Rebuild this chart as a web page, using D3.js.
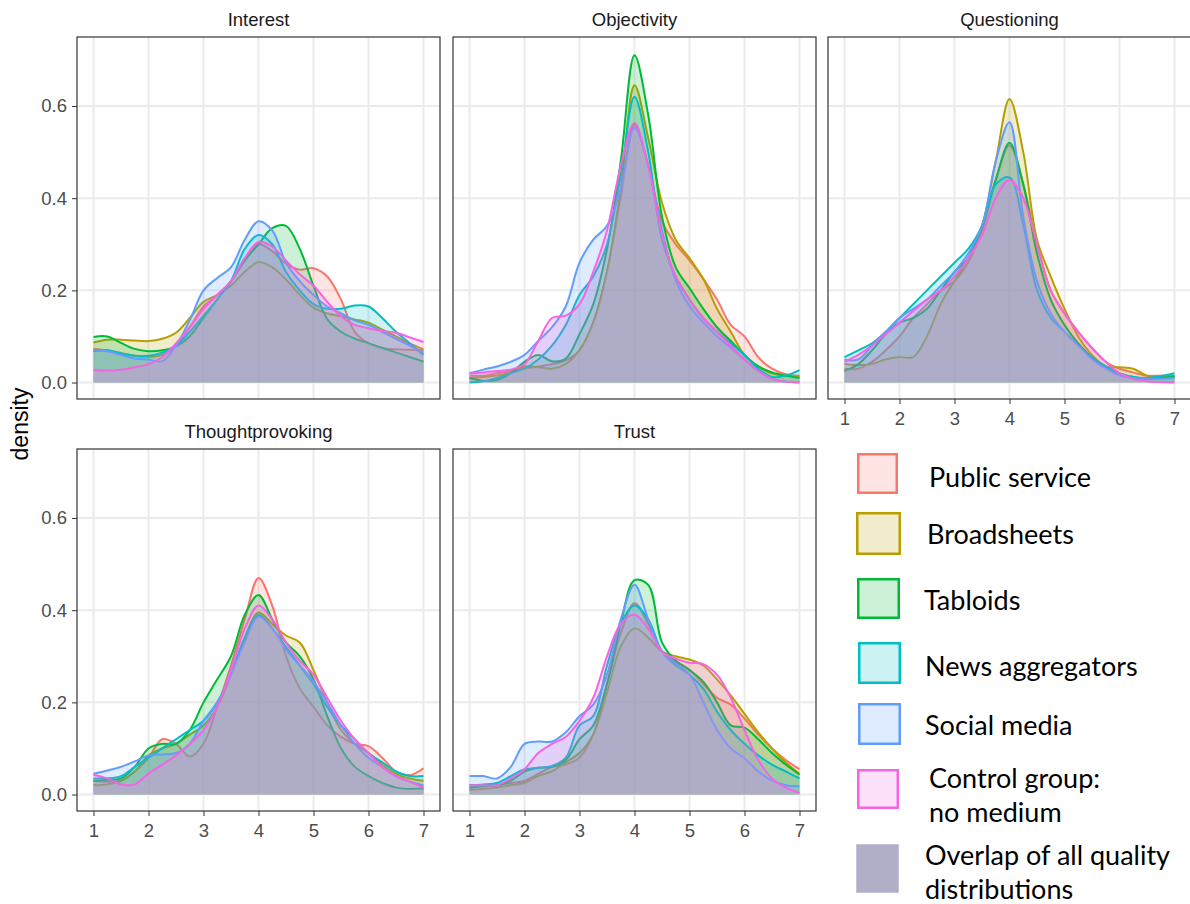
<!DOCTYPE html>
<html lang="en">
<head>
<meta charset="UTF-8">
<title>Quality ratings by medium - density</title>
<script src="https://d3js.org/d3.v7.min.js"></script>
<style>
    body{ margin:0; background:#fff; }
    svg{ display:block; }
    .strip{
        font-family: "Liberation Sans", Arial, sans-serif;
        font-size: 18.5px;
        fill: #1A1A1A;
        text-anchor: middle;
    }
    .tick text{
        font-family: "Liberation Sans", Arial, sans-serif;
        font-size: 18.5px;
        fill: #4D4D4D;
    }
    .tick line{ stroke:#333333; }
    .ytitle{
        font-family: "Liberation Sans", Arial, sans-serif;
        font-size: 23px;
        fill: #000;
        text-anchor: middle;
    }
    .legend text{
        font-family: Lato, "Open Sans", sans-serif;
        font-size: 27px;
        fill: #000;
    }
</style>
</head>
<body>
<svg width="1190" height="904"></svg>
<script>
// groups (ggplot default hue palette)
const groups = ["Public service", "Broadsheets", "Tabloids", "News aggregators", "Social media", "Control group"]
const colors = ["#F8766D", "#B79F00", "#00BA38", "#00BFC4", "#619CFF", "#F564E3"]
const facets = ["Interest", "Objectivity", "Questioning", "Thoughtprovoking", "Trust"]

const xGrid = [1, 1.25, 1.5, 1.75, 2, 2.25, 2.5, 2.75, 3, 3.25, 3.5, 3.75, 4,
               4.25, 4.5, 4.75, 5, 5.25, 5.5, 5.75, 6, 6.25, 6.5, 6.75, 7]
const xTicks = [1, 2, 3, 4, 5, 6, 7]
const yTicks = [0, 0.2, 0.4, 0.6]

// one row per group, same order as `groups`
const interest = [
    [0.073,0.07,0.064,0.058,0.056,0.06,0.08,0.12,0.165,0.19,0.22,0.265,0.30,0.285,0.258,0.245,0.248,0.23,0.18,0.11,0.085,0.075,0.072,0.071,0.07],
    [0.087,0.093,0.093,0.091,0.09,0.095,0.108,0.14,0.175,0.19,0.21,0.24,0.261,0.25,0.223,0.19,0.162,0.15,0.144,0.137,0.13,0.115,0.1,0.085,0.072],
    [0.099,0.1,0.086,0.073,0.068,0.07,0.078,0.1,0.14,0.18,0.22,0.265,0.30,0.335,0.34,0.29,0.21,0.137,0.11,0.095,0.085,0.075,0.065,0.055,0.045],
    [0.068,0.07,0.063,0.058,0.058,0.065,0.08,0.11,0.145,0.18,0.22,0.29,0.32,0.30,0.24,0.20,0.17,0.16,0.16,0.167,0.165,0.14,0.11,0.085,0.06],
    [0.07,0.068,0.06,0.052,0.05,0.046,0.08,0.135,0.2,0.227,0.25,0.31,0.35,0.33,0.26,0.22,0.19,0.165,0.15,0.135,0.125,0.11,0.095,0.08,0.065],
    [0.027,0.026,0.028,0.033,0.04,0.055,0.085,0.12,0.16,0.19,0.22,0.27,0.305,0.295,0.265,0.235,0.21,0.175,0.144,0.125,0.118,0.112,0.108,0.098,0.088]
]
const objectivity = [
    [0.015,0.015,0.02,0.025,0.03,0.035,0.04,0.048,0.07,0.13,0.24,0.40,0.56,0.47,0.35,0.30,0.265,0.225,0.18,0.125,0.10,0.055,0.03,0.018,0.015],
    [0.01,0.012,0.015,0.022,0.035,0.033,0.03,0.04,0.07,0.13,0.24,0.42,0.645,0.53,0.39,0.31,0.27,0.225,0.16,0.11,0.06,0.035,0.02,0.015,0.013],
    [0.01,0.004,0.005,0.02,0.045,0.06,0.046,0.052,0.105,0.17,0.29,0.48,0.71,0.58,0.36,0.25,0.205,0.16,0.12,0.09,0.06,0.035,0.022,0.015,0.01],
    [0.0,0.003,0.01,0.02,0.03,0.05,0.08,0.125,0.19,0.23,0.30,0.45,0.62,0.50,0.31,0.23,0.18,0.14,0.11,0.085,0.06,0.03,0.012,0.015,0.027],
    [0.02,0.028,0.035,0.045,0.06,0.09,0.12,0.165,0.26,0.31,0.34,0.42,0.552,0.47,0.33,0.22,0.165,0.13,0.10,0.075,0.05,0.025,0.008,0.002,0.0],
    [0.02,0.022,0.025,0.028,0.04,0.09,0.14,0.145,0.17,0.24,0.33,0.47,0.563,0.47,0.32,0.23,0.18,0.14,0.11,0.08,0.05,0.025,0.008,0.002,0.0]
]
const questioning = [
    [0.03,0.03,0.045,0.07,0.10,0.14,0.17,0.20,0.22,0.26,0.33,0.44,0.515,0.43,0.30,0.20,0.15,0.11,0.075,0.045,0.03,0.022,0.015,0.015,0.015],
    [0.04,0.038,0.04,0.05,0.055,0.055,0.10,0.17,0.22,0.27,0.34,0.48,0.615,0.50,0.31,0.23,0.16,0.10,0.06,0.035,0.033,0.03,0.015,0.012,0.013],
    [0.025,0.04,0.07,0.105,0.13,0.14,0.16,0.20,0.24,0.27,0.34,0.44,0.52,0.43,0.28,0.18,0.125,0.085,0.055,0.035,0.02,0.012,0.008,0.01,0.013],
    [0.055,0.07,0.085,0.11,0.14,0.17,0.20,0.23,0.26,0.29,0.34,0.43,0.445,0.34,0.20,0.14,0.11,0.08,0.055,0.035,0.02,0.012,0.01,0.014,0.02],
    [0.05,0.05,0.08,0.11,0.14,0.16,0.18,0.21,0.24,0.28,0.34,0.48,0.565,0.36,0.22,0.15,0.11,0.08,0.05,0.03,0.015,0.01,0.008,0.008,0.01],
    [0.045,0.06,0.08,0.105,0.13,0.155,0.18,0.20,0.23,0.27,0.32,0.40,0.44,0.40,0.30,0.20,0.15,0.11,0.075,0.045,0.02,0.008,0.003,0.001,0.0]
]
const thoughtprovoking = [
    [0.03,0.028,0.03,0.05,0.08,0.12,0.11,0.082,0.11,0.19,0.28,0.38,0.47,0.41,0.30,0.23,0.19,0.15,0.125,0.11,0.105,0.08,0.05,0.042,0.057],
    [0.02,0.022,0.03,0.05,0.085,0.10,0.11,0.13,0.15,0.19,0.26,0.34,0.395,0.37,0.345,0.33,0.27,0.20,0.14,0.11,0.09,0.065,0.045,0.035,0.03],
    [0.03,0.032,0.035,0.06,0.10,0.11,0.11,0.14,0.20,0.25,0.30,0.39,0.433,0.38,0.33,0.30,0.25,0.17,0.10,0.06,0.04,0.025,0.015,0.012,0.013],
    [0.035,0.035,0.04,0.06,0.08,0.10,0.12,0.14,0.16,0.20,0.26,0.34,0.39,0.36,0.32,0.28,0.24,0.19,0.15,0.12,0.09,0.07,0.05,0.04,0.04],
    [0.045,0.052,0.06,0.072,0.085,0.087,0.09,0.11,0.16,0.20,0.26,0.33,0.385,0.36,0.315,0.28,0.245,0.20,0.15,0.11,0.08,0.06,0.04,0.028,0.02],
    [0.043,0.035,0.022,0.022,0.045,0.065,0.085,0.11,0.14,0.19,0.27,0.36,0.41,0.38,0.33,0.29,0.26,0.21,0.16,0.12,0.09,0.06,0.04,0.028,0.015]
]
const trust = [
    [0.02,0.02,0.02,0.025,0.03,0.045,0.06,0.065,0.08,0.13,0.24,0.35,0.415,0.37,0.31,0.29,0.27,0.24,0.21,0.195,0.165,0.13,0.10,0.075,0.055],
    [0.01,0.012,0.015,0.02,0.025,0.04,0.05,0.07,0.09,0.13,0.22,0.32,0.36,0.34,0.31,0.30,0.293,0.28,0.25,0.215,0.175,0.135,0.10,0.07,0.045],
    [0.015,0.018,0.02,0.03,0.05,0.058,0.06,0.075,0.12,0.15,0.24,0.37,0.465,0.455,0.33,0.29,0.27,0.245,0.20,0.15,0.145,0.12,0.09,0.065,0.043],
    [0.02,0.022,0.025,0.04,0.055,0.058,0.062,0.08,0.15,0.17,0.28,0.37,0.41,0.38,0.31,0.28,0.26,0.23,0.18,0.14,0.11,0.085,0.065,0.05,0.035],
    [0.04,0.04,0.035,0.06,0.11,0.115,0.115,0.135,0.17,0.195,0.26,0.38,0.455,0.38,0.31,0.285,0.26,0.20,0.14,0.10,0.078,0.05,0.03,0.02,0.018],
    [0.02,0.02,0.02,0.035,0.055,0.09,0.11,0.125,0.16,0.21,0.30,0.37,0.39,0.36,0.31,0.295,0.286,0.283,0.26,0.21,0.14,0.075,0.035,0.015,0.004]
]
const facetData = [interest, objectivity, questioning, thoughtprovoking, trust]

// legend labels (last entry is the overlap swatch)
const legendLabels = [["Public service"], ["Broadsheets"], ["Tabloids"], ["News aggregators"],
                      ["Social media"], ["Control group:", "no medium"],
                      ["Overlap of all quality", "distributions"]]
const overlapColor = "#B1AEC8"
// light tint laid over the common area so the stacked fills end up at overlapColor
const overlapTint = "#D1B8E3"

let svg = d3.select("svg")
let defs = svg.append("defs")

// layout
const colLeft = [77, 453, 828]
const rowTop = [37, 449]
const pw = 363
const ph = 362
const yMax = 0.714   // highest density of all panels, ggplot adds 5% on both ends

facets.forEach(function (name, i) {
    let col = i % 3
    let row = Math.floor(i / 3)
    let left = colLeft[col]
    let top = rowTop[row]

    let x = d3.scaleLinear().domain([0.7, 7.3]).range([left, left + pw])
    let y = d3.scaleLinear().domain([-yMax * 0.05, yMax * 1.05]).range([top + ph, top])

    let g = svg.append("g")

    // grid
    g.selectAll(".hgrid").data(yTicks).enter().append("line")
        .attr("x1", left).attr("x2", left + pw)
        .attr("y1", d => y(d)).attr("y2", d => y(d))
        .attr("stroke", "#EBEBEB").attr("stroke-width", 2)
    g.selectAll(".vgrid").data(xTicks).enter().append("line")
        .attr("y1", top).attr("y2", top + ph)
        .attr("x1", d => x(d)).attr("x2", d => x(d))
        .attr("stroke", "#EBEBEB").attr("stroke-width", 2)

    let area = d3.area()
        .x((d, k) => x(xGrid[k]))
        .y0(y(0))
        .y1(d => y(d))
        .curve(d3.curveCatmullRom)
    let line = d3.line()
        .x((d, k) => x(xGrid[k]))
        .y(d => y(d))
        .curve(d3.curveCatmullRom)

    // one clip per group, nested groups give the common area of all of them
    facetData[i].forEach(function (vals, j) {
        defs.append("clipPath").attr("id", `clip_${i}_${j}`)
            .append("path").attr("d", area(vals))
    })

    let last = facetData[i].length - 1
    // ggplot draws each group's fill and then its outline, in group order
    facetData[i].forEach(function (vals, j) {
        if (j === last) {
            let holder = g
            facetData[i].forEach(function (v, k) {
                holder = holder.append("g").attr("clip-path", `url(#clip_${i}_${k})`)
            })
            holder.append("rect")
                .attr("x", left).attr("y", top)
                .attr("width", pw).attr("height", ph)
                .attr("fill", overlapTint)
                .attr("fill-opacity", 0.25)
        }
        g.append("path")
            .attr("d", area(vals))
            .attr("fill", colors[j])
            .attr("fill-opacity", 0.2)
        g.append("path")
            .attr("d", line(vals))
            .attr("fill", "none")
            .attr("stroke", colors[j])
            .attr("stroke-width", 2)
    })

    // border
    g.append("rect")
        .attr("x", left).attr("y", top)
        .attr("width", pw).attr("height", ph)
        .attr("fill", "none")
        .attr("stroke", "#333333")
        .attr("stroke-width", 1.2)

    // strip title
    g.append("text")
        .attr("class", "strip")
        .attr("x", left + pw / 2)
        .attr("y", top - 11)
        .text(name)

    // axes
    if (col === 0) {
        let ax = g.append("g")
            .attr("transform", `translate(${left},0)`)
            .call(d3.axisLeft(y).tickValues(yTicks).tickFormat(d3.format(".1f")).tickSize(5).tickPadding(5))
        ax.select(".domain").remove()
    }
    if (i >= 2) {
        let ax = g.append("g")
            .attr("transform", `translate(0,${top + ph})`)
            .call(d3.axisBottom(x).tickValues(xTicks).tickFormat(d3.format("d")).tickSize(5).tickPadding(8))
        ax.select(".domain").remove()
    }
})

// y axis title
svg.append("text")
    .attr("class", "ytitle")
    .attr("transform", "translate(28,424) rotate(-90)")
    .text("density")

// legend
const legendBoxes = [[857, 453, 41, 41], [856, 512, 45, 43], [857, 578, 43, 41], [858, 642, 43, 42],
                     [858, 703, 43, 42], [857, 769, 42, 40], [855, 843, 45, 51]]
const legendText = [[929, 487], [927, 544], [924, 610], [925, 676], [925, 735], [929, 788], [925, 865]]

let legend = svg.append("g").attr("class", "legend")
legendLabels.forEach(function (lab, j) {
    let b = legendBoxes[j]
    let isOverlap = j === groups.length
    legend.append("rect")
        .attr("x", b[0] + 1.25).attr("y", b[1] + 1.25)
        .attr("width", b[2] - 2.5).attr("height", b[3] - 2.5)
        .attr("fill", isOverlap ? overlapColor : colors[j])
        .attr("fill-opacity", isOverlap ? 1 : 0.2)
        .attr("stroke", isOverlap ? "none" : colors[j])
        .attr("stroke-width", 2.5)
    let t = legend.append("text")
        .attr("x", legendText[j][0])
        .attr("y", legendText[j][1])
    lab.forEach(function (s, k) {
        t.append("tspan")
            .attr("x", legendText[j][0])
            .attr("dy", k === 0 ? 0 : 33.5)
            .text(s)
    })
})
</script>
</body>
</html>
